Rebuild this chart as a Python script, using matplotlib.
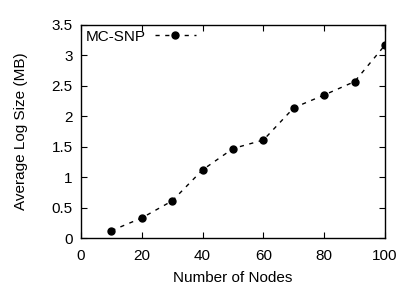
import matplotlib
matplotlib.use("Agg")
import matplotlib.pyplot as plt
from matplotlib.ticker import FuncFormatter

nodes = [10, 20, 30, 40, 50, 60, 70, 80, 90, 100]
log_size = [0.12, 0.33, 0.61, 1.12, 1.47, 1.61, 2.14, 2.35, 2.57, 3.17]

plt.rcParams['font.family'] = ['Liberation Sans', 'DejaVu Sans']
plt.rcParams['font.size'] = 11

fig = plt.figure(figsize=(4.01, 2.85), dpi=100)
ax = fig.add_axes([81 / 401, 1 - 238 / 285, 304 / 401, 213 / 285])

ax.plot(nodes, log_size, linestyle=(0, (3, 4)), color='black', linewidth=1.0,
        marker='o', markersize=5, label='MC-SNP')

ax.set_xlim(0, 100)
ax.set_ylim(0, 3.5)
ax.set_xticks(range(0, 101, 20))
ax.set_yticks([i * 0.5 for i in range(8)])
ax.yaxis.set_major_formatter(FuncFormatter(lambda v, p: '%g' % v))
ax.tick_params(direction='in', top=True, right=True, length=4, width=0.8)
ax.tick_params(axis='x', pad=8)
ax.tick_params(axis='y', pad=6)
for s in ax.spines.values():
    s.set_linewidth(1.0)

ax.set_xlabel('Number of Nodes', labelpad=6)
ax.set_ylabel('Average Log Size (MB)', labelpad=17)

ax.legend(loc='upper left', frameon=False, markerfirst=False, handlelength=2.7,
          borderaxespad=0.1, borderpad=0.2, handletextpad=0.6)

fig.savefig('out.png', dpi=100)
